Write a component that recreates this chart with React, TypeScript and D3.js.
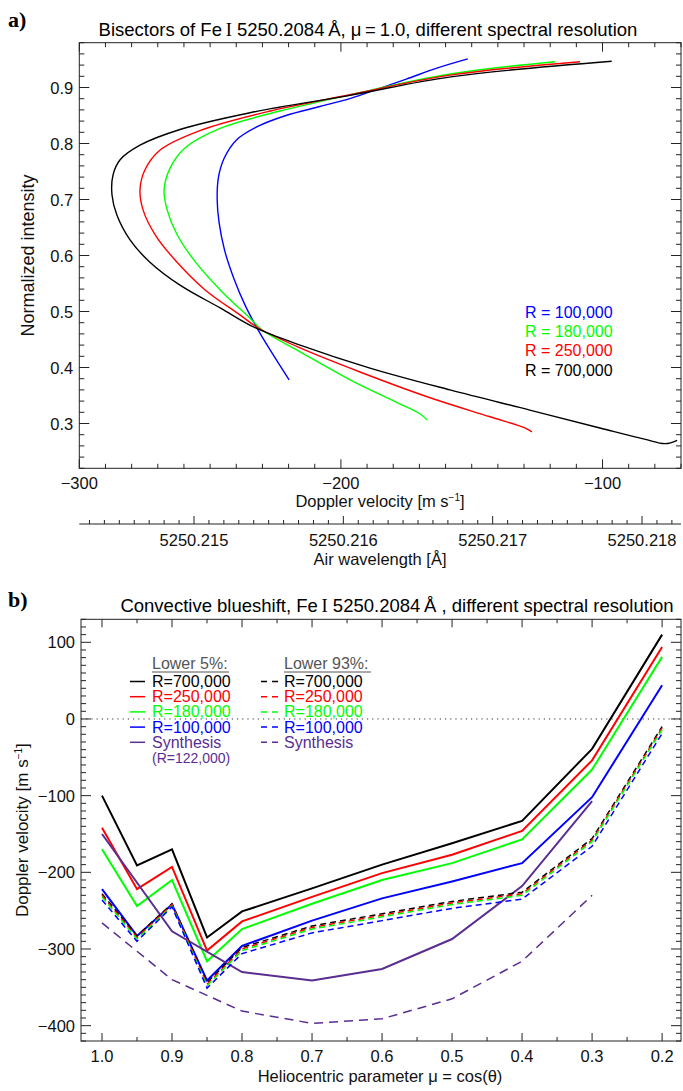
import React from "react";
import * as d3 from "d3";

const W = 683;
const H = 1091;
const FONT = "'Liberation Sans', Arial, Helvetica, sans-serif";

// ---------------- Panel a data (bisectors) ----------------
const resLabelsA = ["R = 100,000", "R = 180,000", "R = 250,000", "R = 700,000"];
const resColorsA = ["#0000ff", "#00ff00", "#ff0000", "#000000"];

const bis100kV = [-151.5, -163, -175, -186, -196, -208, -221, -232, -240, -244.5, -246.8, -247.3, -246.6, -244.5, -241, -236.5, -232, -227, -219.8];
const bis100kI = [0.951, 0.935, 0.915, 0.897, 0.881, 0.866, 0.85, 0.83, 0.806, 0.775, 0.74, 0.7, 0.66, 0.61, 0.56, 0.51, 0.47, 0.431, 0.378];

const bis180kV = [-118.2, -158.3, -196.5, -223.3, -246.2, -259.6, -265.3, -267.6, -266.4, -262.6, -255.7, -245.4, -234.7, -230.1, -215.6, -196.5, -179.3, -169.7, -167];
const bis180kI = [0.946, 0.924, 0.887, 0.858, 0.827, 0.792, 0.756, 0.717, 0.681, 0.637, 0.589, 0.535, 0.488, 0.467, 0.428, 0.378, 0.339, 0.317, 0.306];

const bis250kV = [-108.6, -158.3, -196.5, -227, -253.9, -269.2, -274.9, -276.8, -275.6, -271, -263.4, -252, -238.6, -231.7, -215.6, -192.7, -165.9, -143, -129.7, -127];
const bis250kI = [0.946, 0.922, 0.887, 0.858, 0.823, 0.788, 0.753, 0.717, 0.681, 0.637, 0.592, 0.539, 0.494, 0.471, 0.435, 0.392, 0.346, 0.312, 0.292, 0.285];

const bis700kV = [-96.5, -158, -196.5, -234.7, -261.5, -276.8, -284.4, -287.1, -287.5, -285.6, -280.6, -273, -261.5, -246, -232.8, -215.6, -188.9, -158.3, -127.8, -101, -84, -76, -71.5];
const bis700kI = [0.947, 0.919, 0.886, 0.855, 0.825, 0.797, 0.771, 0.744, 0.708, 0.672, 0.628, 0.588, 0.547, 0.506, 0.471, 0.44, 0.399, 0.36, 0.324, 0.292, 0.272, 0.264, 0.27];

const velTicksMajorA = [-300, -200, -100];
const intTicksMajorA = [0.3, 0.4, 0.5, 0.6, 0.7, 0.8, 0.9];
const wlTicksMajor = [5250.215, 5250.216, 5250.217, 5250.218];

// ---------------- Panel b data (convective blueshift) ----------------
const mu = [1.0, 0.95, 0.9, 0.85, 0.8, 0.7, 0.6, 0.5, 0.4, 0.3, 0.2];
const muSynth = [1.0, 0.9, 0.8, 0.7, 0.6, 0.5, 0.4, 0.3];

const low5R700k = [-100, -191, -170, -285, -251, -221, -190, -162, -133, -39, 110];
const low5R250k = [-142, -222, -193, -302, -264, -232, -201, -177, -146, -54, 94];
const low5R180k = [-170, -244, -210, -316, -274, -241, -210, -188, -157, -66, 81];
const low5R100k = [-222, -283, -242, -341, -296, -263, -234, -212, -188, -102, 44];
const low5Synth = [-150, -277, -330, -341, -326, -287, -218, -107];

const low93R700k = [-228, -283, -241, -344, -298, -270, -254, -238, -226, -156, -10];
const low93R250k = [-230, -285, -242, -346, -300, -272, -256, -240, -228, -158, -12];
const low93R180k = [-232, -287, -244, -348, -302, -274, -258, -242, -230, -160, -14];
const low93R100k = [-236, -290, -245, -351, -306, -279, -263, -247, -235, -166, -19];
const low93Synth = [-266, -340, -381, -397, -391, -365, -316, -230];

const legendLabelsB = ["R=700,000", "R=250,000", "R=180,000", "R=100,000", "Synthesis"];
const colorsB = ["#000000", "#ff0000", "#00ff00", "#0000ff", "#5a2d91"];

const muTicksMajor = [1.0, 0.9, 0.8, 0.7, 0.6, 0.5, 0.4, 0.3, 0.2];
const velTicksMajorB = [-400, -300, -200, -100, 0, 100];

const fmtMinus = (v: number) => (v < 0 ? "\u2212" + Math.abs(v) : String(v));

export default function App() {
  const xA = d3.scaleLinear().domain([-300, -70]).range([79.3, 681]);
  const yA = d3.scaleLinear().domain([0.22, 0.98]).range([468.3, 42.7]);
  const wl = d3.scaleLinear().domain([5250.214232, 5250.218261]).range([79.3, 681]);
  const [aL, aR] = xA.range();
  const [aB, aT] = yA.range();

  const xB = d3.scaleLinear().domain([1.03, 0.173]).range([81, 681]);
  const yB = d3.scaleLinear().domain([-420, 130]).range([1041, 619.3]);
  const [bL, bR] = xB.range();
  const [bB, bT] = yB.range();

  const bisLine = d3
    .line<[number, number]>()
    .x((d) => xA(d[0]))
    .y((d) => yA(d[1]))
    .curve(d3.curveCatmullRom.alpha(0.5));

  const bisSeries = [
    { v: bis100kV, i: bis100kI, c: resColorsA[0] },
    { v: bis180kV, i: bis180kI, c: resColorsA[1] },
    { v: bis250kV, i: bis250kI, c: resColorsA[2] },
    { v: bis700kV, i: bis700kI, c: resColorsA[3] },
  ];

  const muLine = d3
    .line<[number, number]>()
    .x((d) => xB(d[0]))
    .y((d) => yB(d[1]));

  const solidB = [
    { m: mu, v: low5R700k, c: colorsB[0] },
    { m: mu, v: low5R250k, c: colorsB[1] },
    { m: mu, v: low5R180k, c: colorsB[2] },
    { m: mu, v: low5R100k, c: colorsB[3] },
    { m: muSynth, v: low5Synth, c: colorsB[4] },
  ];
  const dashedB = [
    { m: mu, v: low93R700k, c: colorsB[0] },
    { m: mu, v: low93R250k, c: colorsB[1] },
    { m: mu, v: low93R180k, c: colorsB[2] },
    { m: mu, v: low93R100k, c: colorsB[3] },
    { m: muSynth, v: low93Synth, c: colorsB[4] },
  ];

  const ax = "#222";

  const velMinorA = d3.range(-300, -69, 10);
  const intMinorA = d3.range(0.22, 0.981, 0.02).map((d) => +d.toFixed(2));
  const wlMinor = d3
    .range(0, 41)
    .map((k) => 5250.2143 + k * 0.0001)
    .filter((d) => wl(d) >= aL - 0.1 && wl(d) <= aR + 0.1);
  const muMinor = d3
    .range(0, 18)
    .map((k) => +(0.2 + k * 0.05).toFixed(2))
    .filter((d) => d <= 1.03);
  const velMinorB = d3.range(-420, 131, 10);

  const tickLabelSize = 16.5;

  return (
    <div style={{ position: "absolute", left: 0, top: 0 }}>
      <svg width={W} height={H} style={{ display: "block", background: "#fff" }} fontFamily={FONT}>
        <rect x={0} y={0} width={W} height={H} fill="#fff" />

        {/* ================= Panel a ================= */}
        <text x={8} y={27} fontFamily="'Liberation Serif', 'Times New Roman', serif" fontWeight="bold" fontSize={22}>
          a)
        </text>
        <text x={368} y={36} fontSize={18.5} textAnchor="middle">
          {"Bisectors of Fe"}
          <tspan fontFamily="'Liberation Serif', serif">{"\u2009I"}</tspan>
          {" 5250.2084\u2009\u00c5, \u03bc\u2009=\u20091.0, different spectral resolution"}
        </text>

        <g fill="none" strokeWidth={1.4}>
          {bisSeries.map((s, k) => (
            <path key={k} d={bisLine(s.v.map((v, j) => [v, s.i[j]] as [number, number])) || ""} stroke={s.c} />
          ))}
        </g>

        <rect x={aL} y={aT} width={aR - aL} height={aB - aT} fill="none" stroke={ax} strokeWidth={1} />
        <g stroke={ax} strokeWidth={1}>
          {velMinorA.map((v) => {
            const major = velTicksMajorA.includes(v);
            const L = major ? 9 : 4.5;
            return (
              <g key={"va" + v}>
                <line x1={xA(v)} x2={xA(v)} y1={aB} y2={aB - L} />
                <line x1={xA(v)} x2={xA(v)} y1={aT} y2={aT + L} />
              </g>
            );
          })}
          {intMinorA.map((v) => {
            const major = intTicksMajorA.some((m) => Math.abs(m - v) < 1e-6);
            const L = major ? 10 : 5;
            return (
              <g key={"ia" + v}>
                <line x1={aL} x2={aL + L} y1={yA(v)} y2={yA(v)} />
                <line x1={aR} x2={aR - L} y1={yA(v)} y2={yA(v)} />
              </g>
            );
          })}
        </g>
        <g fontSize={tickLabelSize} fill="#111">
          {velTicksMajorA.map((v) => (
            <text key={"vl" + v} x={xA(v)} y={489} textAnchor="middle">
              {fmtMinus(v)}
            </text>
          ))}
          {intTicksMajorA.map((v) => (
            <text key={"il" + v} x={aL - 6} y={yA(v) + 6} textAnchor="end">
              {v.toFixed(1)}
            </text>
          ))}
        </g>
        <text x={380} y={507} fontSize={16.5} textAnchor="middle" fill="#111">
          {"Doppler velocity [m s"}
          <tspan dy={-6} fontSize={10}>
            {"\u22121"}
          </tspan>
          <tspan dy={6}>]</tspan>
        </text>
        <text transform={`translate(34, ${(aT + aB) / 2}) rotate(-90)`} fontSize={18} textAnchor="middle" fill="#111">
          Normalized intensity
        </text>

        <g stroke={ax} strokeWidth={1}>
          <line x1={aL} x2={aR} y1={524} y2={524} />
          {wlMinor.map((w, k) => {
            const major = wlTicksMajor.some((m) => Math.abs(m - w) < 1e-7);
            const L = major ? 8 : 4;
            return <line key={"wl" + k} x1={wl(w)} x2={wl(w)} y1={524} y2={524 - L} />;
          })}
        </g>
        <g fontSize={tickLabelSize} fill="#111">
          {wlTicksMajor.map((w) => (
            <text key={"wlt" + w} x={wl(w)} y={545.5} textAnchor="middle">
              {w.toFixed(3)}
            </text>
          ))}
        </g>
        <text x={380} y={565} fontSize={16.5} textAnchor="middle" fill="#111">
          {"Air wavelength [\u00c5]"}
        </text>

        <g fontSize={16}>
          {resLabelsA.map((l, k) => (
            <text key={l} x={525} y={318 + k * 19.2} fill={resColorsA[k]}>
              {l}
            </text>
          ))}
        </g>

        {/* ================= Panel b ================= */}
        <text x={8} y={607} fontFamily="'Liberation Serif', 'Times New Roman', serif" fontWeight="bold" fontSize={22}>
          b)
        </text>
        <text x={397} y={612} fontSize={18.5} textAnchor="middle">
          {"Convective blueshift, Fe"}
          <tspan fontFamily="'Liberation Serif', serif">{"\u2009I"}</tspan>
          {" 5250.2084\u2009\u00c5 , different spectral resolution"}
        </text>

        <line x1={bL} x2={bR} y1={yB(0)} y2={yB(0)} stroke="#333" strokeWidth={1} strokeDasharray="1.2,4" />

        <g fontSize={16}>
          <text x={152} y={669} fill="#555">
            Lower 5%:
          </text>
          <line x1={152} x2={229} y1={672} y2={672} stroke="#555" strokeWidth={1} />
          <text x={284} y={669} fill="#555">
            Lower 93%:
          </text>
          <line x1={284} x2={371} y1={672} y2={672} stroke="#555" strokeWidth={1} />
          {legendLabelsB.map((l, k) => {
            const y = 687 + k * 15.2;
            return (
              <g key={"lb" + k}>
                <line x1={130} x2={145} y1={y - 5.5} y2={y - 5.5} stroke={colorsB[k]} strokeWidth={1.5} />
                <text x={152} y={y} fill={colorsB[k]}>
                  {l}
                </text>
                <line x1={261} x2={278} y1={y - 5.5} y2={y - 5.5} stroke={colorsB[k]} strokeWidth={1.5} strokeDasharray="6,5" />
                <text x={284} y={y} fill={colorsB[k]}>
                  {l}
                </text>
              </g>
            );
          })}
          <text x={152} y={763} fill={colorsB[4]} fontSize={14}>
            (R=122,000)
          </text>
        </g>

        <g fill="none">
          {solidB.map((s, k) => (
            <path key={"s" + k} d={muLine(s.m.map((m, j) => [m, s.v[j]] as [number, number])) || ""} stroke={s.c} strokeWidth={2} />
          ))}
          {dashedB.map((s, k) => (
            <path
              key={"d" + k}
              d={muLine(s.m.map((m, j) => [m, s.v[j]] as [number, number])) || ""}
              stroke={s.c}
              strokeWidth={1.5}
              strokeDasharray={k === 4 ? "9,6" : "6,4"}
            />
          ))}
        </g>

        <rect x={bL} y={bT} width={bR - bL} height={bB - bT} fill="none" stroke={ax} strokeWidth={1} />
        <g stroke={ax} strokeWidth={1}>
          {muMinor.map((m) => {
            const major = muTicksMajor.some((t) => Math.abs(t - m) < 1e-6);
            const L = major ? 8 : 4;
            return (
              <g key={"mt" + m}>
                <line x1={xB(m)} x2={xB(m)} y1={bB} y2={bB - L} />
                <line x1={xB(m)} x2={xB(m)} y1={bT} y2={bT + L} />
              </g>
            );
          })}
          {velMinorB.map((v) => {
            const major = velTicksMajorB.includes(v);
            const L = major ? 10 : 5;
            return (
              <g key={"vb" + v}>
                <line x1={bL} x2={bL + L} y1={yB(v)} y2={yB(v)} />
                <line x1={bR} x2={bR - L} y1={yB(v)} y2={yB(v)} />
              </g>
            );
          })}
        </g>
        <g fontSize={tickLabelSize} fill="#111">
          {muTicksMajor.map((m) => (
            <text key={"ml" + m} x={xB(m)} y={1062} textAnchor="middle">
              {m.toFixed(1)}
            </text>
          ))}
          {velTicksMajorB.map((v) => (
            <text key={"vbl" + v} x={bL - 6} y={yB(v) + 6} textAnchor="end">
              {fmtMinus(v)}
            </text>
          ))}
        </g>
        <text x={380} y={1082} fontSize={16.5} textAnchor="middle" fill="#111">
          {"Heliocentric parameter \u03bc = cos(\u03b8)"}
        </text>
        <text transform={`translate(28, ${(bT + bB) / 2}) rotate(-90)`} fontSize={17} textAnchor="middle" fill="#111">
          {"Doppler velocity [m s"}
          <tspan dy={-6} fontSize={10}>
            {"\u22121"}
          </tspan>
          <tspan dy={6}>]</tspan>
        </text>
      </svg>
    </div>
  );
}
